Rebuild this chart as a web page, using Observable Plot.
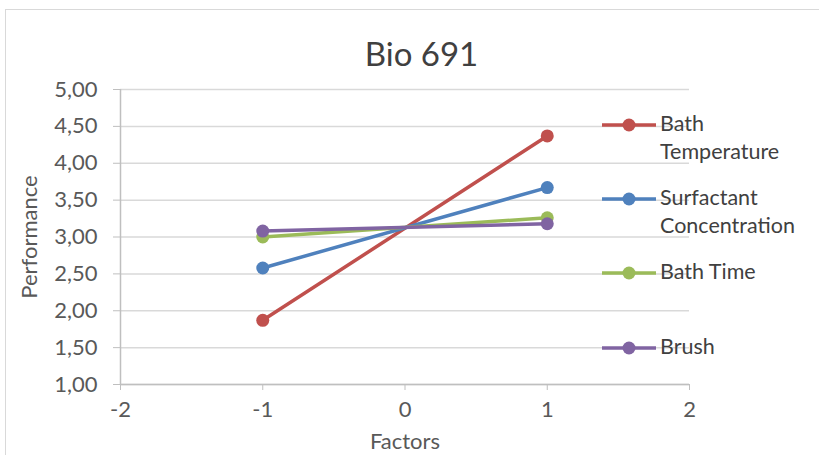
<!DOCTYPE html>
<html>
<head>
<meta charset="utf-8">
<script src="https://cdn.jsdelivr.net/npm/d3@7"></script>
<script src="https://cdn.jsdelivr.net/npm/@observablehq/plot@0.6"></script>
<style>
  body { margin: 0; background: #fff; font-family: Lato, "Open Sans", sans-serif; }
  #wrap { position: relative; width: 819px; height: 455px; overflow: hidden; }
  #border { position: absolute; left: 5px; top: 9px; width: 840px; height: 480px; border: 1px solid #d9d9d9; box-sizing: border-box; }
  #title { position: absolute; left: 12px; width: 819px; top: 33px; text-align: center; font-size: 33px; color: #404040; }
  #chart { position: absolute; left: 0; top: 0; }
  #legend { position: absolute; left: 602px; top: 112px; color: #404040; font-size: 21.5px; }
  .item { position: absolute; left: 0; display: flex; align-items: flex-start; white-space: nowrap; }
  .item svg { flex: none; margin-top: 5px; }
  .item span { margin-left: 4px; line-height: 28px; margin-top: -3px; }
</style>
</head>
<body>
<div id="wrap">
  <div id="border"></div>
  <div id="chart"></div>
  <div id="title">Bio 691</div>
  <div id="legend"></div>
</div>
<script>
// Data
const xLevels = [-1, 1];
const seriesNames = ["Bath Temperature", "Surfactant Concentration", "Bath Time", "Brush"];
const legendLines = [["Bath", "Temperature"], ["Surfactant", "Concentration"], ["Bath Time"], ["Brush"]];
const bathTemperature = [1.87, 4.37];
const surfactantConcentration = [2.58, 3.67];
const bathTime = [3.00, 3.26];
const brush = [3.08, 3.18];
const seriesColors = ["#C0504D", "#4F81BD", "#9BBB59", "#8064A2"];
const yTicks = [1, 1.5, 2, 2.5, 3, 3.5, 4, 4.5, 5];
const xTicks = [-2, -1, 0, 1, 2];
const legendOffsets = [0, 74, 148, 223];

const allValues = [bathTemperature, surfactantConcentration, bathTime, brush];
const rows = [];
seriesNames.forEach((name, i) => {
  xLevels.forEach((x, j) => rows.push({series: name, x, y: allValues[i][j]}));
});

const fmt = d => d.toFixed(2).replace(".", ",");

const plot = Plot.plot({
  width: 819,
  height: 455,
  marginLeft: 120,
  marginRight: 130,
  marginTop: 89,
  marginBottom: 71,
  style: { fontFamily: "Lato, 'Open Sans', sans-serif", fontSize: "21px", color: "#595959", background: "transparent" },
  x: { domain: [-2, 2] },
  y: { domain: [1, 5] },
  color: { domain: seriesNames, range: seriesColors },
  marks: [
    Plot.gridY(yTicks, { stroke: "#d9d9d9", strokeOpacity: 1, strokeWidth: 1.5 }),
    Plot.ruleY([1], { stroke: "#bfbfbf", strokeWidth: 1.5 }),
    Plot.ruleX([-2], { stroke: "#bfbfbf", strokeWidth: 1.5 }),
    Plot.axisY({ ticks: yTicks, tickFormat: fmt, tickSize: 7, tickPadding: 16, stroke: "#bfbfbf", fontSize: 22,
      label: null, fill: "#595959" }),
    Plot.axisY({ ticks: [], tickSize: 0, fontSize: 22,
      label: "Performance", labelAnchor: "center", labelArrow: "none", labelOffset: 99, fill: "#595959" }),
    Plot.axisX({ ticks: xTicks, tickFormat: d => String(d), tickSize: 6, tickPadding: 11, stroke: "#bfbfbf", fontSize: 22,
      label: null, fill: "#595959" }),
    Plot.axisX({ ticks: [], tickSize: 0, fontSize: 22,
      label: "Factors", labelAnchor: "center", labelArrow: "none", labelOffset: 64, fill: "#595959" }),
    Plot.line(rows, { x: "x", y: "y", z: "series", stroke: "series", strokeWidth: 3.5 }),
    Plot.dot(rows, { x: "x", y: "y", fill: "series", r: 6.5 })
  ]
});
document.getElementById("chart").appendChild(plot);

// Legend
const legend = document.getElementById("legend");
seriesNames.forEach((name, i) => {
  const item = document.createElement("div");
  item.className = "item";
  item.style.top = legendOffsets[i] + "px";
  const c = seriesColors[i];
  item.innerHTML = `<svg width="54" height="16"><line x1="0" x2="54" y1="8" y2="8" stroke="${c}" stroke-width="3.5"/><circle cx="27" cy="8" r="6.5" fill="${c}"/></svg><span>${legendLines[i].join("<br>")}</span>`;
  legend.appendChild(item);
});
</script>
</body>
</html>
